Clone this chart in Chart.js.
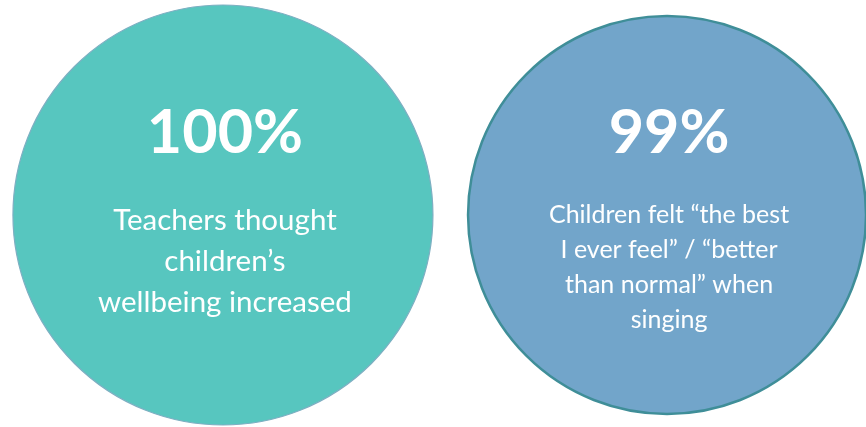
<!DOCTYPE html>
<html>
<head>
<meta charset="utf-8">
<script src="https://cdn.jsdelivr.net/npm/chart.js@4/dist/chart.umd.min.js"></script>
<style>
  html, body { margin: 0; padding: 0; background: #fff; }
  #wrap { width: 866px; height: 427px; }
</style>
</head>
<body>
<div id="wrap"><canvas id="circles"></canvas></div>
<script>
// values
const categories = ['Teachers', 'Children'];
const percentages = [100, 99];
const descriptions = [
  ['Teachers thought', 'children\u2019s', 'wellbeing increased'],
  ['Children felt \u201cthe best', 'I ever feel\u201d / \u201cbetter', 'than normal\u201d when', 'singing']
];

const fills = ['#57C6BF', '#72A5CA'];
const borders = ['#7DAFC2', '#3F8E98'];

const labelPlugin = {
  id: 'circleLabels',
  afterDatasetsDraw(chart) {
    const ctx = chart.ctx;
    const meta = chart.getDatasetMeta(0);
    const bigOffset = [-62, -62];
    const lineStart = [15, 8];
    const lineGap = [41, 35];
    const descFont = ['29.5px Lato', '25px Lato'];
    ctx.save();
    ctx.fillStyle = '#ffffff';
    ctx.textAlign = 'center';
    ctx.textBaseline = 'alphabetic';
    meta.data.forEach((pt, i) => {
      ctx.font = 'bold 61px Lato';
      ctx.fillText(percentages[i] + '%', pt.x + 2, pt.y + bigOffset[i]);
      ctx.font = descFont[i];
      descriptions[i].forEach((line, j) => {
        ctx.fillText(line, pt.x + 2, pt.y + lineStart[i] + j * lineGap[i]);
      });
    });
    ctx.restore();
  }
};

const canvas = document.getElementById('circles');
new Chart(canvas.getContext('2d'), {
  type: 'scatter',
  data: {
    datasets: [{
      label: 'share',
      data: categories.map((c, i) => ({ x: i, y: 0 })),
      pointRadius: [210, 199],
      pointHoverRadius: [210, 199],
      pointBackgroundColor: fills,
      pointBorderColor: borders,
      pointBorderWidth: [1.2, 2.5],
      clip: false
    }]
  },
  options: {
    responsive: true,
    maintainAspectRatio: false,
    animation: false,
    events: [],
    layout: { padding: 0, autoPadding: false },
    plugins: {
      legend: { display: false },
      tooltip: { enabled: false },
      title: { display: false }
    },
    scales: {
      x: { type: 'linear', min: -0.502, max: 1.448, display: false },
      y: { type: 'linear', min: -0.993, max: 1.007, display: false }
    }
  },
  plugins: [labelPlugin]
});
</script>
</body>
</html>
